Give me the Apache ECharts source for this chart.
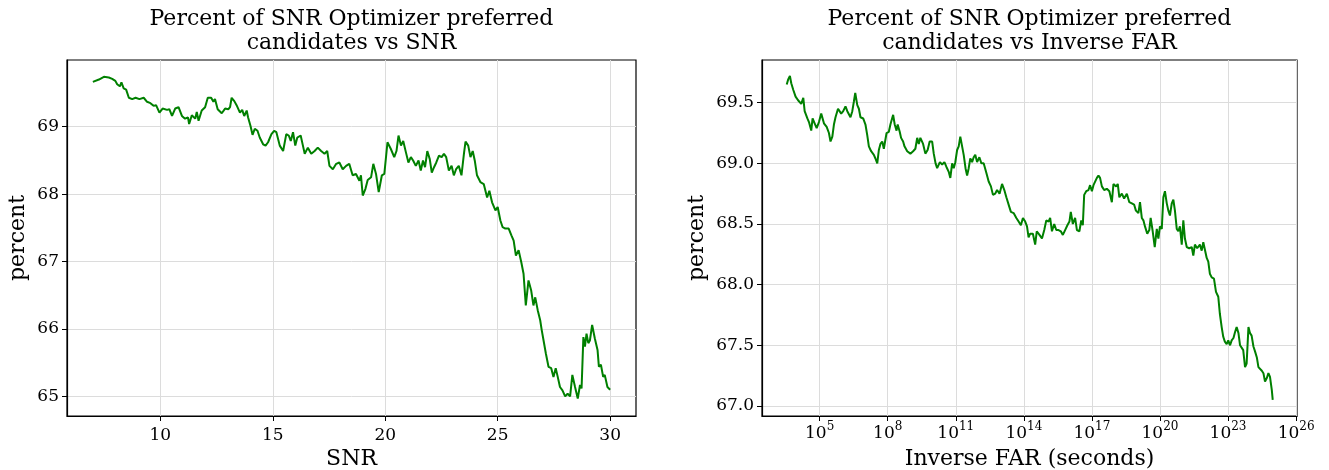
<!DOCTYPE html>
<html>
<head>
<meta charset="utf-8">
<script src="https://cdn.jsdelivr.net/npm/echarts@6/dist/echarts.min.js"></script>
<style>
html,body{margin:0;padding:0;background:#fff;}
#chart{width:1329px;height:470px;}
</style>
</head>
<body>
<div id="chart"></div>
<script>
// ---------- data ----------
const snrX = [7.0,7.27,7.49,7.71,7.86,8.0,8.08,8.2,8.27,8.37,8.48,8.6,8.75,8.9,9.07,9.26,9.41,9.56,9.70,9.81,9.96,10.1,10.3,10.4,10.52,10.66,10.81,10.96,11.1,11.23,11.28,11.4,11.55,11.62,11.7,11.84,11.99,12.11,12.26,12.36,12.43,12.55,12.73,12.88,13.02,13.1,13.17,13.29,13.39,13.54,13.64,13.73,13.84,13.9,14.01,14.1,14.2,14.32,14.42,14.57,14.68,14.79,14.94,15.06,15.16,15.31,15.46,15.6,15.71,15.8,15.9,16.0,16.09,16.24,16.34,16.42,16.56,16.71,16.86,17.0,17.15,17.3,17.42,17.52,17.67,17.82,17.96,18.11,18.26,18.4,18.55,18.7,18.85,18.92,
19.0,19.12,19.22,19.37,19.47,19.59,19.71,19.85,19.96,20.1,20.25,20.4,20.5,20.59,20.7,20.8,20.92,21.03,21.14,21.24,21.36,21.48,21.58,21.68,21.77,21.87,21.98,22.07,22.17,22.27,22.39,22.51,22.61,22.71,22.83,22.95,23.05,23.15,23.27,23.39,23.5,23.57,23.69,23.79,23.89,23.98,24.08,24.23,24.38,24.53,24.63,24.75,24.9,25.0,25.12,25.22,25.34,25.49,25.61,25.71,25.81,25.93,26.05,26.15,26.25,26.37,26.49,26.59,26.67,26.78,26.89,26.96,27.04,27.14,27.26,27.38,27.48,27.58,27.67,27.77,27.88,28.0,28.11,28.22,28.32,28.44,28.56,28.66,28.73,28.81,28.88,28.95,29.03,29.1,29.2,29.32,29.44,29.5,29.59,29.69,29.76,29.88,29.94,30.0];
const snrPct = [69.666,69.70,69.74,69.73,69.71,69.68,69.63,69.60,69.66,69.57,69.55,69.43,69.41,69.43,69.41,69.43,69.37,69.35,69.31,69.32,69.21,69.27,69.25,69.26,69.16,69.27,69.29,69.16,69.12,69.14,69.04,69.17,69.12,69.22,69.09,69.24,69.29,69.43,69.43,69.37,69.41,69.26,69.20,69.27,69.26,69.29,69.43,69.38,69.32,69.21,69.25,69.16,69.24,69.14,69.01,68.88,68.97,68.94,68.84,68.74,68.72,68.77,68.89,68.94,68.92,68.72,68.64,68.89,68.87,68.79,68.92,68.72,68.84,68.87,68.72,68.60,68.69,68.60,68.64,68.69,68.64,68.60,68.64,68.42,68.37,68.45,68.47,68.37,68.42,68.45,68.28,68.30,68.20,68.28,
67.98,68.08,68.21,68.25,68.45,68.30,68.03,68.28,68.30,68.77,68.67,68.55,68.64,68.87,68.72,68.79,68.62,68.47,68.55,68.50,68.42,68.50,68.35,68.50,68.40,68.64,68.52,68.32,68.40,68.47,68.57,68.55,68.60,68.55,68.35,68.42,68.28,68.37,68.42,68.28,68.60,68.78,68.72,68.55,68.64,68.50,68.28,68.18,68.15,67.95,68.05,67.88,67.76,67.81,67.61,67.51,67.49,67.49,67.39,67.31,67.09,67.17,66.99,66.82,66.35,66.72,66.57,66.35,66.47,66.28,66.13,65.98,65.83,65.64,65.44,65.42,65.29,65.42,65.29,65.14,65.09,65.0,65.04,65.0,65.32,65.14,64.97,65.17,65.12,65.88,65.74,65.93,65.79,65.83,66.06,65.86,65.69,65.44,65.47,65.29,65.32,65.14,65.12,65.10];

// inverse FAR as log10 exponent
const farExp = [3.55,3.61,3.69,3.75,3.84,3.94,4.05,4.13,4.19,4.28,4.34,4.46,4.53,4.63,4.69,4.78,4.87,4.97,5.07,5.19,5.31,5.41,5.48,5.56,5.63,5.70,5.81,5.89,5.95,6.04,6.14,6.22,6.29,6.36,6.44,6.51,6.57,6.66,6.73,6.80,6.92,7.02,7.10,7.17,7.27,7.39,7.46,7.54,7.61,7.68,7.76,7.83,7.95,8.05,8.12,8.24,8.31,8.39,8.44,8.53,8.59,8.68,8.74,8.86,9.0,9.12,9.22,9.30,9.37,9.44,9.56,9.66,9.76,9.85,9.96,10.03,10.11,10.18,10.30,10.40,10.50,10.59,10.69,10.76,10.84,10.91,10.98,11.06,11.13,11.20,11.28,11.35,11.43,11.50,11.57,11.64,11.72,11.79,11.86,11.94,12.04,12.13,12.23,12.35,12.45,12.55,12.64,12.74,12.82,12.93,13.04,13.14,13.23,13.33,13.43,13.55,13.67,13.77,13.87,13.96,14.06,14.14,14.21,14.28,
14.40,14.50,14.57,14.69,14.80,14.90,14.99,15.09,15.16,15.24,15.34,15.43,15.53,15.63,15.72,15.82,15.92,16.01,16.07,16.16,16.26,16.34,16.45,16.53,16.60,16.66,16.75,16.85,16.92,17.00,17.07,17.15,17.22,17.29,17.36,17.44,17.54,17.66,17.77,17.88,17.95,18.07,18.14,18.21,18.32,18.42,18.54,18.65,18.76,18.86,18.94,19.05,19.12,19.20,19.27,19.34,19.44,19.53,19.59,19.68,19.77,19.86,19.93,20.0,20.08,20.15,20.22,20.30,20.37,20.44,20.52,20.59,20.66,20.74,20.81,20.88,20.96,21.03,21.10,21.18,21.29,21.40,21.47,21.54,21.64,21.76,21.84,21.91,21.98,22.06,22.13,22.20,22.28,22.38,22.47,22.57,22.64,22.72,22.79,22.86,22.94,23.01,23.09,23.16,23.24,23.31,23.38,23.46,23.53,23.60,23.67,23.75,23.82,23.90,23.97,24.04,24.12,24.19,24.27,24.34,24.41,24.49,24.56,24.63,24.71,24.78,24.85,24.93,24.97];
const farPct = [69.65,69.69,69.72,69.66,69.605,69.55,69.52,69.51,69.49,69.54,69.43,69.37,69.34,69.27,69.37,69.33,69.29,69.34,69.41,69.33,69.30,69.25,69.18,69.22,69.32,69.38,69.45,69.44,69.41,69.43,69.47,69.43,69.44,69.38,69.43,69.51,69.58,69.48,69.45,69.38,69.37,69.32,69.23,69.14,69.10,69.07,69.04,69.0,69.11,69.16,69.18,69.12,69.25,69.26,69.32,69.40,69.32,69.27,69.32,69.26,69.21,69.18,69.14,69.10,69.08,69.10,69.12,69.21,69.16,69.21,69.16,69.08,69.11,69.18,69.18,69.08,69.0,68.96,69.01,68.99,69.01,68.97,68.93,68.88,69.0,68.96,69.01,69.11,69.14,69.22,69.14,69.07,68.96,68.90,68.96,69.04,69.01,69.05,69.07,69.01,69.05,69.0,69.0,68.92,68.85,68.81,68.74,68.75,68.78,68.75,68.83,68.78,68.72,68.66,68.60,68.59,68.55,68.52,68.49,68.55,68.52,68.48,68.39,68.42,
68.42,68.33,68.44,68.41,68.38,68.45,68.53,68.52,68.55,68.44,68.50,68.45,68.45,68.44,68.41,68.45,68.49,68.52,68.60,68.50,68.55,68.45,68.44,68.53,68.49,68.74,68.77,68.78,68.82,68.77,68.82,68.83,68.88,68.90,68.88,68.81,68.78,68.79,68.77,68.68,68.83,68.81,68.83,68.72,68.75,68.71,68.75,68.68,68.67,68.66,68.61,68.59,68.68,68.55,68.53,68.48,68.42,68.45,68.55,68.44,68.31,68.46,68.38,68.48,68.46,68.72,68.77,68.67,68.61,68.57,68.67,68.70,68.61,68.46,68.44,68.48,68.33,68.53,68.38,68.31,68.30,68.31,68.24,68.33,68.30,68.33,68.28,68.35,68.34,68.22,68.19,68.09,68.06,68.05,67.94,67.90,67.76,67.65,67.57,67.53,67.51,67.54,67.50,67.54,67.56,67.61,67.65,67.60,67.50,67.49,67.46,67.32,67.35,67.65,67.60,67.58,67.49,67.45,67.40,67.32,67.33,67.29,67.27,67.20,67.23,67.27,67.24,67.13,67.05];

const snrTicks = [10, 15, 20, 25, 30];
const snrPctTicks = [65, 66, 67, 68, 69];
const farExpTicks = [5, 8, 11, 14, 17, 20, 23, 26];
const farPctTicks = [67.0, 67.5, 68.0, 68.5, 69.0, 69.5];

// ---------- chart ----------
const FONT = '"DejaVu Serif", serif';
const GREEN = '#008000';
const GRIDC = '#dcdcdc';

function zip(xs, ys) {
  const n = Math.min(xs.length, ys.length);
  const out = [];
  for (let i = 0; i < n; i++) out.push([xs[i], ys[i]]);
  return out;
}

function makeX(gridIndex, min, max, ticks, fmt, rich, margin) {
  return {
    type: 'value', gridIndex, min, max,
    axisLine: { show: true, onZero: false, lineStyle: { color: '#000', width: 1.2 } },
    axisTick: { show: true, length: 5, inside: false, customValues: ticks, lineStyle: { color: '#000', width: 1 } },
    axisLabel: { show: true, customValues: ticks, formatter: fmt, color: '#000', fontFamily: FONT, fontSize: 17, margin: margin, rich: rich },
    splitLine: { show: true, customValues: ticks, lineStyle: { color: GRIDC, width: 1 } }
  };
}
function makeY(gridIndex, min, max, ticks, fmt) {
  return {
    type: 'value', gridIndex, min, max,
    axisLine: { show: true, onZero: false, lineStyle: { color: '#000', width: 1.2 } },
    axisTick: { show: true, length: 5, inside: false, customValues: ticks, lineStyle: { color: '#000', width: 1 } },
    axisLabel: { show: true, customValues: ticks, formatter: fmt, color: '#000', fontFamily: FONT, fontSize: 17, margin: 8 },
    splitLine: { show: true, customValues: ticks, lineStyle: { color: GRIDC, width: 1 } }
  };
}

const supRich = {
  b: { fontFamily: FONT, fontSize: 17, color: '#000', lineHeight: 20, verticalAlign: 'bottom' },
  s: { fontFamily: FONT, fontSize: 12, color: '#000', lineHeight: 12, verticalAlign: 'bottom', padding: [0, 0, 9, 0] }
};

function txt(text, x, y, size, rot) {
  return {
    type: 'text', x, y, rotation: rot || 0,
    style: { text, fontFamily: FONT, fontSize: size, fill: '#000', textAlign: 'center', textVerticalAlign: 'middle' },
    silent: true
  };
}

const chart = echarts.init(document.getElementById('chart'), null, { renderer: 'canvas' });
chart.setOption({
  animation: false,
  backgroundColor: '#fff',
  grid: [
    { left: 67, top: 60, width: 569, height: 356, show: true, borderColor: '#000', borderWidth: 1.2, backgroundColor: 'transparent' },
    { left: 762, top: 60, width: 535, height: 356, show: true, borderColor: '#000', borderWidth: 1.2, backgroundColor: 'transparent' }
  ],
  xAxis: [
    makeX(0, 5.85, 31.15, snrTicks, v => String(Math.round(v)), undefined, 11),
    makeX(1, 2.46, 26.04, farExpTicks, v => '{b|10}{s|' + Math.round(v) + '}', supRich, 6)
  ],
  yAxis: [
    makeY(0, 64.71, 69.99, snrPctTicks, v => String(Math.round(v))),
    makeY(1, 66.917, 69.852, farPctTicks, v => v.toFixed(1))
  ],
  series: [
    { type: 'line', xAxisIndex: 0, yAxisIndex: 0, data: zip(snrX, snrPct), showSymbol: false, symbol: 'none',
      lineStyle: { color: GREEN, width: 2 }, silent: true },
    { type: 'line', xAxisIndex: 1, yAxisIndex: 1, data: zip(farExp, farPct), showSymbol: false, symbol: 'none',
      lineStyle: { color: GREEN, width: 2 }, silent: true }
  ],
  graphic: [
    txt('Percent of SNR Optimizer preferred', 351.5, 19, 22),
    txt('candidates vs SNR', 351.5, 43, 22),
    txt('Percent of SNR Optimizer preferred', 1029.5, 19, 22),
    txt('candidates vs Inverse FAR', 1029.5, 43, 22),
    txt('SNR', 351.5, 459, 22),
    txt('Inverse FAR (seconds)', 1029.5, 459, 22),
    txt('percent', 18, 238, 22, -Math.PI / 2 * -1),
    txt('percent', 697, 238, 22, Math.PI / 2)
  ]
});
</script>
</body>
</html>
